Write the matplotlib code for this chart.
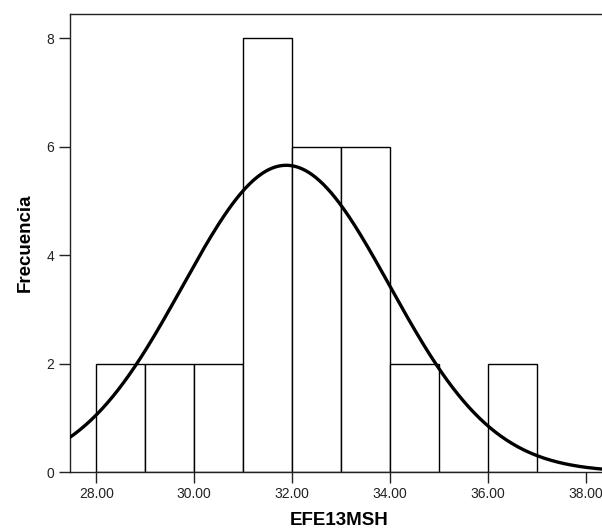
import numpy as np
import matplotlib
matplotlib.use("Agg")
import matplotlib.pyplot as plt

# Data
bin_edges = [28, 29, 30, 31, 32, 33, 34, 35, 36, 37]
counts = [2, 2, 2, 8, 6, 6, 2, 0, 2]
n_total = 30
mean_val = 31.88
sd_val = 2.115
x_ticks = [28, 30, 32, 34, 36, 38]
x_tick_labels = ["28.00", "30.00", "32.00", "34.00", "36.00", "38.00"]
y_ticks = [0, 2, 4, 6, 8]
x_label = "EFE13MSH"
y_label = "Frecuencia"

plt.rcParams['font.family'] = ['Liberation Sans', 'DejaVu Sans']

fig = plt.figure(figsize=(6.02, 5.31), dpi=100)
ax = fig.add_axes([69.5/602, 59/531, 1 - 69.5/602 + 0.01, (472-14)/531])

widths = np.diff(bin_edges)
ax.bar(bin_edges[:-1], counts, width=widths, align='edge', color='white',
       edgecolor='black', linewidth=1.0, zorder=2)

xmin, xmax = 27.455, 38.45
xs = np.linspace(xmin, xmax, 400)
binw = widths[0]
ys = n_total * binw / (sd_val * np.sqrt(2*np.pi)) * np.exp(-0.5*((xs-mean_val)/sd_val)**2)
ax.plot(xs, ys, color='black', linewidth=2.4, zorder=3, solid_capstyle='butt')

ax.set_xlim(xmin, xmax)
ax.set_ylim(0, 8.45)
ax.set_xticks(x_ticks)
ax.set_xticklabels(x_tick_labels)
ax.set_yticks(y_ticks)

for s in ['left', 'bottom', 'top']:
    ax.spines[s].set_color('#222222')
    ax.spines[s].set_linewidth(1.0)
ax.spines['right'].set_visible(False)

ax.tick_params(axis='both', direction='out', length=8, width=1.0, color='#222222',
               labelsize=10, labelcolor='#222222')
ax.tick_params(axis='x', pad=3)
ax.tick_params(axis='y', pad=3)

ax.set_xlabel(x_label, fontsize=13.5, fontweight='bold', labelpad=8)
ax.set_ylabel(y_label, fontsize=13.5, fontweight='bold', labelpad=9)

fig.savefig("out.png", dpi=100)
